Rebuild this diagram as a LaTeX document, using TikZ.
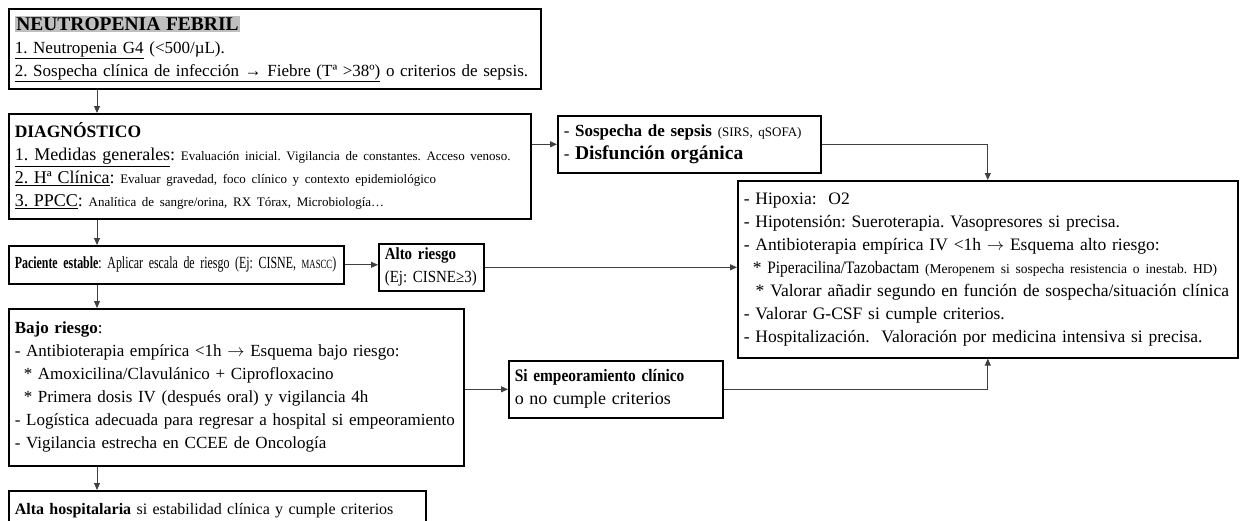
\documentclass[tikz,border=0pt]{standalone}
\usepackage{fontspec}
\setmainfont{Liberation Serif}
\newfontfamily\narrowA[FakeStretch=0.70]{Liberation Serif}
\newfontfamily\narrowB[FakeStretch=0.88]{Liberation Serif}
\usetikzlibrary{arrows.meta,positioning}

\newcommand{\fsz}[1]{\fontsize{#1}{23}\selectfont}
\newcommand{\smalltxt}{\fsz{13}}
\newcommand{\hlhead}[1]{{\setlength{\fboxsep}{1.5pt}\colorbox{black!25}{\fsz{19.5}\textbf{#1}}}}
\newcommand{\ind}{\hspace*{9pt}}
\frenchspacing

\begin{document}
\begin{tikzpicture}[x=1pt,y=-1pt,>={Triangle[length=7pt,width=6pt]},
        box/.style={draw,line width=1.6pt,anchor=north west,align=left,
          inner xsep=6pt,inner ysep=2pt,font=\fsz{17}},
        link/.style={draw=black!75,line width=0.8pt,->}]

  \useasboundingbox (0,0) rectangle (1245,520);
  \coordinate (spine) at (97,0);

  \node[box,text width=520,minimum height=80] (neutro) at (8,8)
    {\hlhead{NEUTROPENIA FEBRIL}\\
     \underline{1. Neutropenia G4} (<500/µL).\\
     \underline{2. Sospecha clínica de infección → Fiebre (Tª >38º)} o criterios de sepsis.};
  \node[box,text width=510,minimum height=105] (diag) at (8,113)
    {{\fsz{17.5}\textbf{DIAGNÓSTICO}}\\
     {\fsz{18}\underline{1.\,\,Medidas\,\,generales}:} {\smalltxt Evaluación inicial. Vigilancia de constantes. Acceso venoso.}\\
     {\fsz{18}\underline{2. Hª Clínica}:} {\smalltxt Evaluar gravedad, foco clínico y contexto epidemiológico}\\
     {\fsz{18}\underline{3. PPCC}:} {\smalltxt Analítica de sangre/orina, RX Tórax, Microbiología…}};
  \node[box,text width=251,minimum height=57] (sepsis) at (557,115)
    {- \textbf{Sospecha de sepsis} {\smalltxt (SIRS, qSOFA)}\\
     - {\fsz{19.5}\textbf{Disfunción orgánica}}};
  \node[box,text width=488,minimum height=177,font=\fsz{17.5}] (alto tto) at (737,180)
    {- Hipoxia:\ \ O2\\
     - Hipotensión: Sueroterapia. Vasopresores si precisa.\\
     - Antibioterapia empírica IV <1h $\rightarrow$ Esquema alto riesgo:\\
     \ind* {\narrowB Piperacilina/Tazobactam} {\fsz{13.5}(Meropenem si sospecha resistencia o inestab. HD)}\\
     \ind\,* Valorar añadir segundo en función de sospecha/situación clínica\\
     - Valorar G-CSF si cumple criterios.\\
     - Hospitalización.\ \ Valoración por medicina intensiva si precisa.};
  \node[box,text width=323,minimum height=38,font=\narrowA\fsz{17}] (estable) at (8,245)
    {\textbf{Paciente estable}: Aplicar escala de riesgo (Ej: CISNE, {\fsz{12.5}MASCC})};
  \node[box,text width=93,minimum height=47,font=\narrowB\fsz{17}] (alto) at (378,243)
    {\textbf{Alto riesgo}\\(Ej: CISNE≥3)};
  \node[box,text width=443,minimum height=157] (bajo) at (8,308)
    {\textbf{Bajo riesgo}:\\
     - Antibioterapia empírica <1h $\rightarrow$ Esquema bajo riesgo:\\
     \ind* Amoxicilina/Clavulánico + Ciprofloxacino\\
     \ind* Primera dosis IV (después oral) y vigilancia 4h\\
     - Logística adecuada para regresar a hospital si empeoramiento\\
     - Vigilancia estrecha en CCEE de Oncología};
  \node[box,text width=202,minimum height=57] (empeora) at (508,360)
    {{\narrowB\fsz{17.5}\textbf{Si empeoramiento clínico}}\\{\fsz{18}o no cumple criterios}};
  \node[box,text width=405,minimum height=40,font=\fsz{16}] (alta) at (8,490)
    {\textbf{Alta hospitalaria} si estabilidad clínica y cumple criterios};

  \path (neutro.south -| spine) edge[link] (diag.north -| spine)
        (diag.east |- sepsis.west) edge[link] (sepsis.west)
        (diag.south -| spine) edge[link] (estable.north -| spine)
        (estable.east) edge[link] (estable.east -| alto.west)
        (alto.east) edge[link] (alto.east -| alto tto.west)
        (estable.south -| spine) edge[link] (bajo.north -| spine)
        (bajo.east |- empeora.west) edge[link] (empeora.west)
        (bajo.south -| spine) edge[link] (alta.north -| spine);
  \draw[link] (sepsis.east) -| (alto tto.north);
  \draw[link] (empeora.east) -| (alto tto.south);

\end{tikzpicture}
\end{document}
